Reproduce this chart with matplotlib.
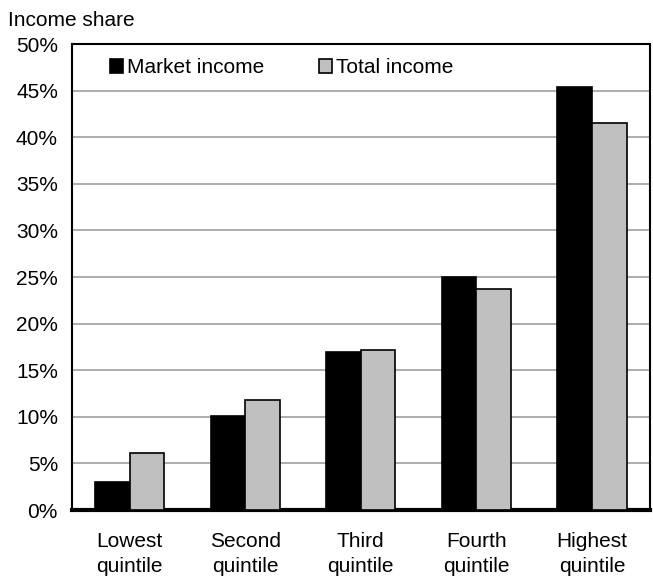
import numpy as np
import matplotlib
matplotlib.use('Agg')
import matplotlib.pyplot as plt

plt.rcParams['font.family'] = ['Liberation Sans', 'DejaVu Sans']

categories = ['Lowest\nquintile', 'Second\nquintile', 'Third\nquintile',
              'Fourth\nquintile', 'Highest\nquintile']
market_income = [3.0, 10.1, 17.0, 25.0, 45.4]
total_income = [6.1, 11.8, 17.2, 23.7, 41.5]
yticks = [0, 5, 10, 15, 20, 25, 30, 35, 40, 45, 50]

fs = 15

fig = plt.figure(figsize=(6.53, 5.83), dpi=100)
ax = fig.add_axes([0.110, 0.1252, 0.885, 0.7993])

x = np.arange(len(categories))
w = 0.3
ax.bar(x - w / 2, market_income, w, color='black', edgecolor='black', linewidth=1.2,
       label='Market income', zorder=3)
ax.bar(x + w / 2, total_income, w, color='#c0c0c0', edgecolor='black', linewidth=1.2,
       label='Total income', zorder=3)

ax.set_xlim(-0.5, len(categories) - 0.5)
ax.set_ylim(0, 50)
ax.set_yticks(yticks)
ax.set_yticklabels(['%d%%' % t for t in yticks])
ax.set_xticks(x)
ax.set_xticklabels(categories, linespacing=1.4)
ax.tick_params(axis='both', length=0, labelsize=fs, colors='black')
ax.tick_params(axis='x', pad=16)
ax.tick_params(axis='y', pad=10)
ax.yaxis.grid(True, color='#a0a0a0', linewidth=1.2, zorder=0)

for s in ['left', 'right', 'top']:
    ax.spines[s].set_linewidth(1.5)
ax.spines['bottom'].set_linewidth(3)

fig.text(0.012, 0.965, 'Income share', fontsize=fs, ha='left', va='center')

ax.legend(loc='upper left', bbox_to_anchor=(0.033, 1.01), ncol=2, frameon=False,
          fontsize=fs, handlelength=0.65, handleheight=0.65, handletextpad=0.2,
          columnspacing=2.6)

fig.savefig('out.png', dpi=100)
